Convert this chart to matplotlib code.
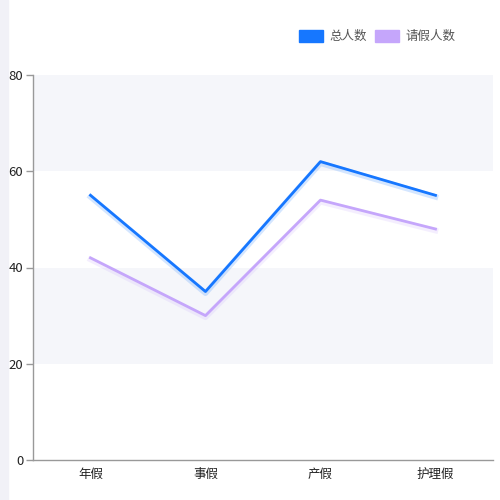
import matplotlib.pyplot as plt
import matplotlib.patheffects as pe
from matplotlib.patches import Rectangle

plt.rcParams['font.family'] = ['Noto Sans CJK SC', 'DejaVu Sans']

# data
categories = ['年假', '事假', '产假', '护理假']
total = [55, 35, 62, 55]
leave = [42, 30, 54, 48]
series_names = ['总人数', '请假人数']
colors = ['#1677ff', '#c5a6fb']

fig = plt.figure(figsize=(5, 5), dpi=100)
fig.patches.append(Rectangle((0, 0), 8 / 500, 1, transform=fig.transFigure,
                             color='#f1f1f7', zorder=0))
ax = fig.add_axes([33 / 500, 40 / 500, 460 / 500, 385 / 500])

# alternating background bands
for lo, hi in [(60, 80), (20, 40)]:
    ax.axhspan(lo, hi, color='#f5f6fa', lw=0, zorder=0)

x = list(range(len(categories)))
for vals, c in zip([total, leave], colors):
    line, = ax.plot(x, vals, color=c, lw=2, zorder=3)
    line.set_path_effects([pe.SimpleLineShadow(offset=(0, -1.2), shadow_color=c,
                                               alpha=0.18, linewidth=4), pe.Normal()])

ax.set_xlim(-0.5, 3.5)
ax.set_ylim(0, 80)
ax.set_yticks([0, 20, 40, 60, 80])
ax.set_xticks(x)
ax.set_xticklabels(categories)
ax.tick_params(axis='x', length=0, pad=6, labelsize=9, colors='#222222')
ax.tick_params(axis='y', length=5, width=1, color='#999999', labelsize=9.5,
               labelcolor='#222222', pad=2)
for s in ['top', 'right']:
    ax.spines[s].set_visible(False)
for s in ['left', 'bottom']:
    ax.spines[s].set_color('#999999')
    ax.spines[s].set_linewidth(1)

# legend
lx = [299, 375]
for name, c, px in zip(series_names, colors, lx):
    fig.patches.append(Rectangle((px / 500, 1 - 42 / 500), 24 / 500, 12 / 500,
                                 transform=fig.transFigure, color=c))
    fig.text((px + 30) / 500, 1 - 36 / 500, name, fontsize=9, color='#555555',
             va='center', ha='left')

fig.savefig('out.png', dpi=100)
